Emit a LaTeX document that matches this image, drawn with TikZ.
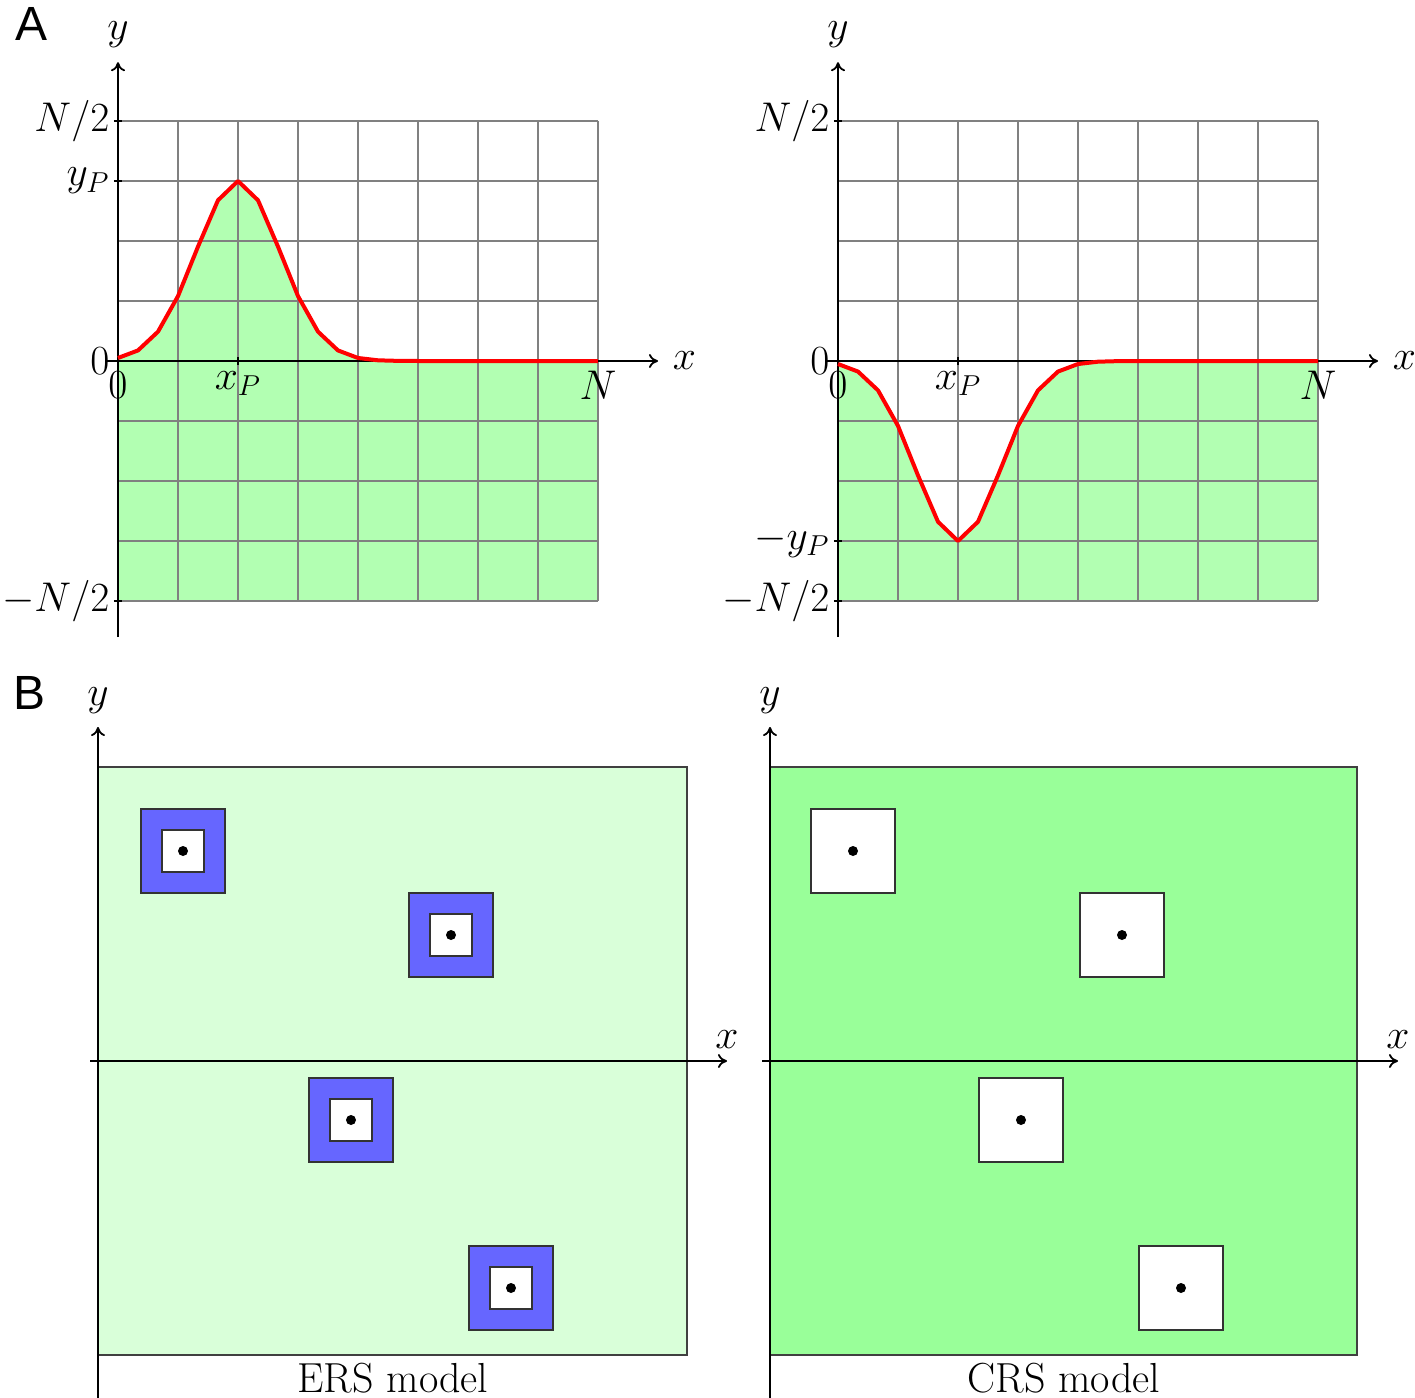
\documentclass[tikz,border=0pt]{standalone}
\usepackage{fontspec}
\newfontfamily\panelfont{Liberation Sans}
\usetikzlibrary{arrows.meta}

\begin{document}
\begin{tikzpicture}[x=0.5pt, y=-0.5pt, >={To[length=4.5pt, width=7pt]},
    font=\fontsize{22}{26}\selectfont,
    gridline/.style={gray, line width=0.6pt},
    axis/.style={line width=0.9pt},
    pulse/.style={red, line width=2pt, line join=round},
    region/.style={draw=black!75, line width=0.9pt},
    hole/.style={rectangle, draw=black!80, line width=0.7pt, inner sep=0pt, minimum size=42pt},
    panel/.style={font=\panelfont\fontsize{24}{28}\selectfont}]
  \useasboundingbox (0,0) rectangle (1415,1398);
  \node[panel] (lblA) at (32,24) {A};
  \node[panel] (lblB) at (30,693) {B};
  % (A) left: positive bump at x_P, filled below the curve down to -N/2
  \begin{scope}[shift={(118,361)}, x=30pt, y=30pt]
    \fill[green!30] plot[domain=0:8, samples=25] (\x, {3*exp(-((\x-2)*(\x-2))/0.98)}) -- (8,-4) -- (0,-4) -- cycle;
    \foreach \g in {0,...,8} \draw[gridline] (\g,-4) -- (\g,4);
    \foreach \g in {-4,...,4} \draw[gridline] (0,\g) -- (8,\g);
    \draw[axis, ->] (-0.2,0) -- (9,0) node[right, inner sep=7pt] (xl1) {$x$};
    \draw[axis, ->] (0,-4.6) -- (0,4.98) node[above, inner sep=7pt] (yl1) {$y$};
    \foreach \t in {4,3,0,-4} \draw[axis] (-0.07,\t) -- (0.07,\t);
    \draw[axis] (2,-0.07) -- (2,0.07);
    \node[left, inner sep=2pt] (n1top) at (-0.07,4) {$N/2$};
    \node[left, inner sep=2pt] (n1yp) at (-0.07,3) {$y_P$};
    \node[left, inner sep=2pt] (n1zero) at (-0.07,0) {$0$};
    \node[left, inner sep=2pt] (n1bot) at (-0.07,-4) {$-N/2$};
    \node[below, inner sep=5pt] (o1) at (0,0) {$0$};
    \node[below, inner sep=5pt] (xp1) at (2,0) {$x_P$};
    \node[below, inner sep=5pt] (nn1) at (8,0) {$N$};
    \draw[pulse] plot[domain=0:8, samples=25] (\x, {3*exp(-((\x-2)*(\x-2))/0.98)});
  \end{scope}
  % (A) right: the mirrored dip, filled below the curve
  \begin{scope}[shift={(838,361)}, x=30pt, y=30pt]
    \fill[green!30] plot[domain=0:8, samples=25] (\x, {-3*exp(-((\x-2)*(\x-2))/0.98)}) -- (8,-4) -- (0,-4) -- cycle;
    \foreach \g in {0,...,8} \draw[gridline] (\g,-4) -- (\g,4);
    \foreach \g in {-4,...,4} \draw[gridline] (0,\g) -- (8,\g);
    \draw[axis, ->] (-0.2,0) -- (9,0) node[right, inner sep=7pt] (xl2) {$x$};
    \draw[axis, ->] (0,-4.6) -- (0,4.98) node[above, inner sep=7pt] (yl2) {$y$};
    \foreach \t in {4,0,-3,-4} \draw[axis] (-0.07,\t) -- (0.07,\t);
    \draw[axis] (2,-0.07) -- (2,0.07);
    \node[left, inner sep=2pt] (n2top) at (-0.07,4) {$N/2$};
    \node[left, inner sep=2pt] (n2zero) at (-0.07,0) {$0$};
    \node[left, inner sep=2pt] (n2yp) at (-0.07,-3) {$-y_P$};
    \node[left, inner sep=2pt] (n2bot) at (-0.07,-4) {$-N/2$};
    \node[below, inner sep=5pt] (o2) at (0,0) {$0$};
    \node[below, inner sep=5pt] (xp2) at (2,0) {$x_P$};
    \node[below, inner sep=5pt] (nn2) at (8,0) {$N$};
    \draw[pulse] plot[domain=0:8, samples=25] (\x, {-3*exp(-((\x-2)*(\x-2))/0.98)});
  \end{scope}
  % (B) left: ERS model, light field with shielded cells
  \begin{scope}[shift={(98,1061)}, y=0.5pt]
    \draw[region, fill=green!15] (0,-294) rectangle (589,294);
    \draw[axis, ->] (-8,0) -- (629,0) node[above, inner sep=6pt] (xl3) {$x$};
    \draw[axis, ->] (0,-340) -- (0,334) node[above, inner sep=6.5pt] (yl3) {$y$};
    \foreach \cx/\cy [count=\i] in {85/210, 353/126, 253/-59, 413/-227} {
      \node[hole, fill=blue!60] (ers\i) at (\cx,\cy) {};
      \node[hole, fill=white, minimum size=21pt] (ersin\i) at (ers\i.center) {};
      \fill (ers\i.center) circle (2.5pt);
    }
    \node[anchor=base, font=\fontsize{21}{25}\selectfont] (ers) at (295,-331) {ERS model};
  \end{scope}
  % (B) right: CRS model, dense field with empty cells
  \begin{scope}[shift={(770,1061)}, y=0.5pt]
    \draw[region, fill=green!40] (0,-294) rectangle (587,294);
    \draw[axis, ->] (-8,0) -- (628,0) node[above, inner sep=6pt] (xl4) {$x$};
    \draw[axis, ->] (0,-340) -- (0,334) node[above, inner sep=6.5pt] (yl4) {$y$};
    \foreach \cx/\cy [count=\i] in {83/210, 352/126, 251/-59, 411/-227} {
      \node[hole, fill=white] (crs\i) at (\cx,\cy) {};
      \fill (crs\i.center) circle (2.5pt);
    }
    \node[anchor=base, font=\fontsize{21}{25}\selectfont] (crs) at (294,-331) {CRS model};
  \end{scope}
\end{tikzpicture}
\end{document}
